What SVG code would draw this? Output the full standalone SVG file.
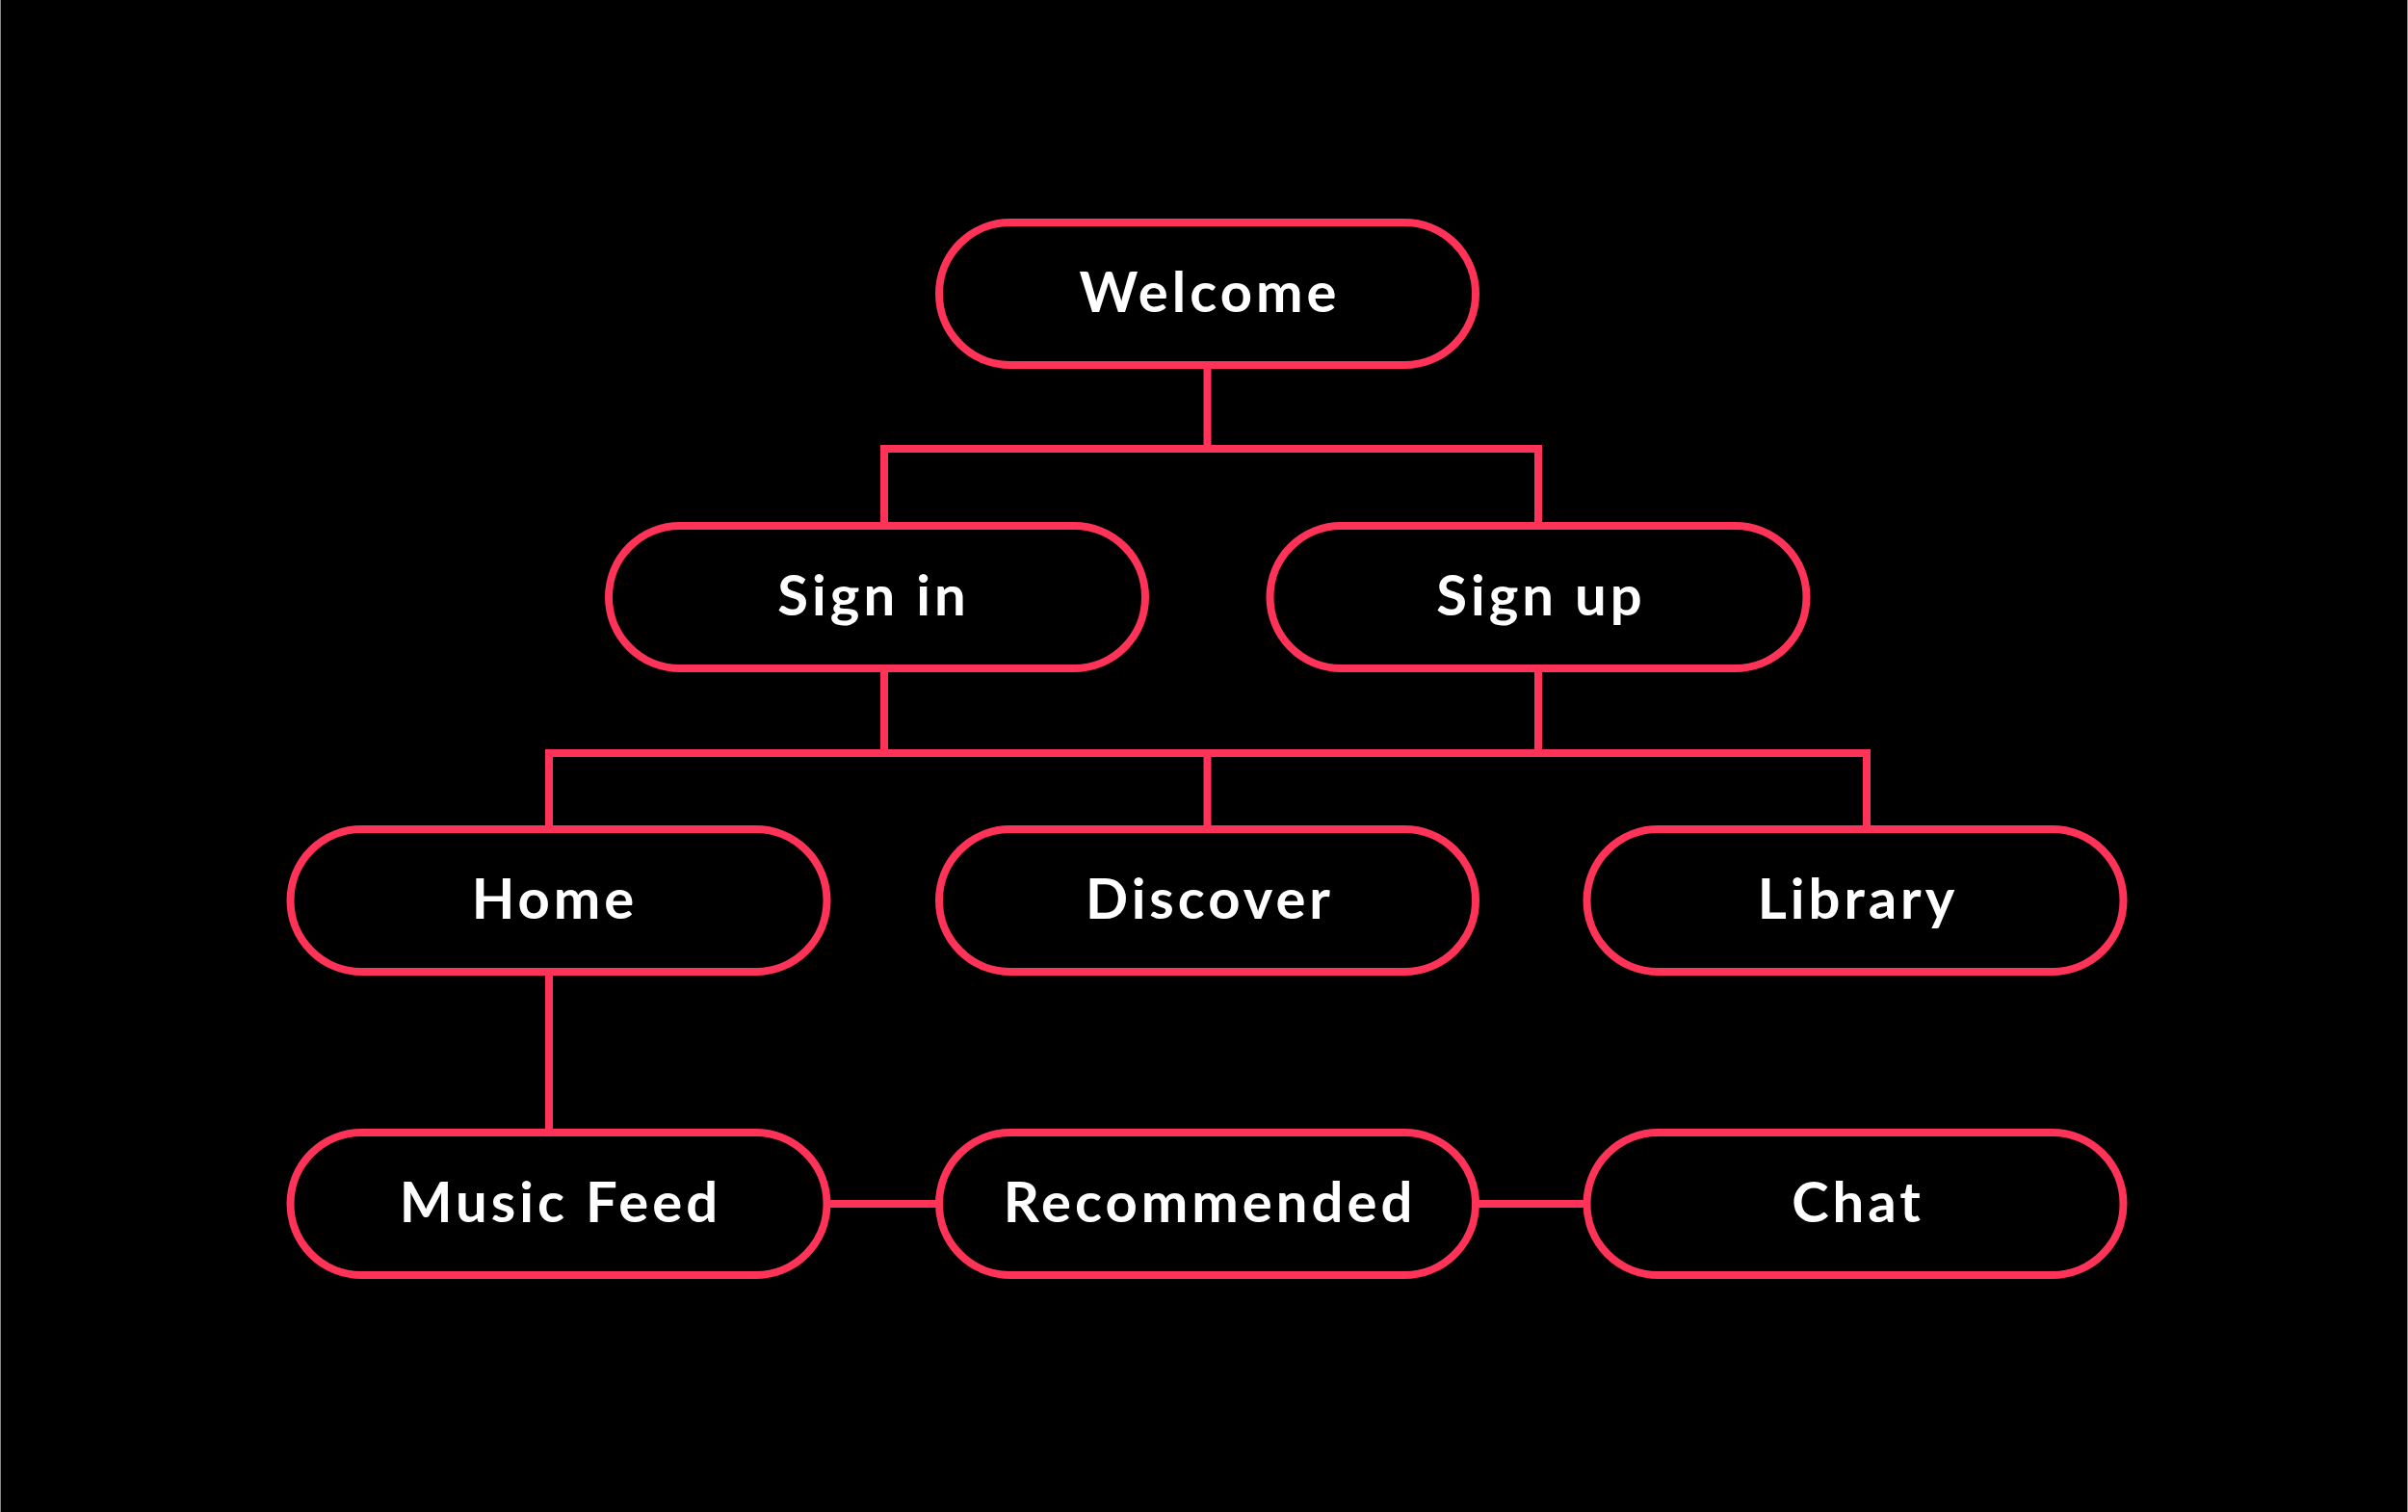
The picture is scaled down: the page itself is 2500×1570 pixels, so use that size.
<svg xmlns="http://www.w3.org/2000/svg" width="2500" height="1570" viewBox="0 0 2500 1570">
<style>
.pill{fill:#000;stroke:#FF3358;stroke-width:8}
.conn{fill:none;stroke:#FF3358;stroke-width:8;stroke-linejoin:miter}
.lbl{font-family:Lato,"Open Sans","Liberation Sans",sans-serif;font-weight:700;font-size:58px;letter-spacing:4px;fill:#fff;text-anchor:middle}
</style>
<rect x="0" y="0" width="2500" height="1570" fill="#000"/>
<line x1="0.5" y1="0" x2="0.5" y2="1570" stroke="#8a8a8a" stroke-width="1"/>
<line x1="2499.5" y1="0" x2="2499.5" y2="1570" stroke="#8a8a8a" stroke-width="1"/>
<g id="connectors">
<path class="conn" d="M1253.5 379 V466"/>
<path class="conn" d="M918 548 V466 H1597 V548"/>
<path class="conn" d="M918 694 V782"/>
<path class="conn" d="M1597 694 V782"/>
<path class="conn" d="M570 861 V782 H1938 V861"/>
<path class="conn" d="M1253.5 782 V861"/>
<path class="conn" d="M570 1009 V1176"/>
<path class="conn" d="M858.5 1250 H975"/>
<path class="conn" d="M1532 1250 H1647.5"/>
</g>
<g id="welcome">
<rect class="pill" x="975" y="231" width="557" height="148" rx="74"/>
<text class="lbl" x="1256" y="324">Welcome</text>
</g>
<g id="signin">
<rect class="pill" x="632" y="546" width="557" height="148" rx="74"/>
<text class="lbl" x="907" y="639">Sign in</text>
</g>
<g id="signup">
<rect class="pill" x="1318.5" y="546" width="557" height="148" rx="74"/>
<text class="lbl" x="1600" y="639">Sign up</text>
</g>
<g id="home">
<rect class="pill" x="301.5" y="861" width="557" height="148" rx="74"/>
<text class="lbl" x="576" y="954">Home</text>
</g>
<g id="discover">
<rect class="pill" x="975" y="861" width="557" height="148" rx="74"/>
<text class="lbl" x="1256" y="954">Discover</text>
</g>
<g id="library">
<rect class="pill" x="1647.5" y="861" width="557" height="148" rx="74"/>
<text class="lbl" x="1929" y="954">Library</text>
</g>
<g id="musicfeed">
<rect class="pill" x="301.5" y="1176" width="557" height="148" rx="74"/>
<text class="lbl" x="582" y="1269">Music Feed</text>
</g>
<g id="recommended">
<rect class="pill" x="975" y="1176" width="557" height="148" rx="74"/>
<text class="lbl" x="1256" y="1269">Recommended</text>
</g>
<g id="chat">
<rect class="pill" x="1647.5" y="1176" width="557" height="148" rx="74"/>
<text class="lbl" x="1929" y="1269">Chat</text>
</g>
</svg>
